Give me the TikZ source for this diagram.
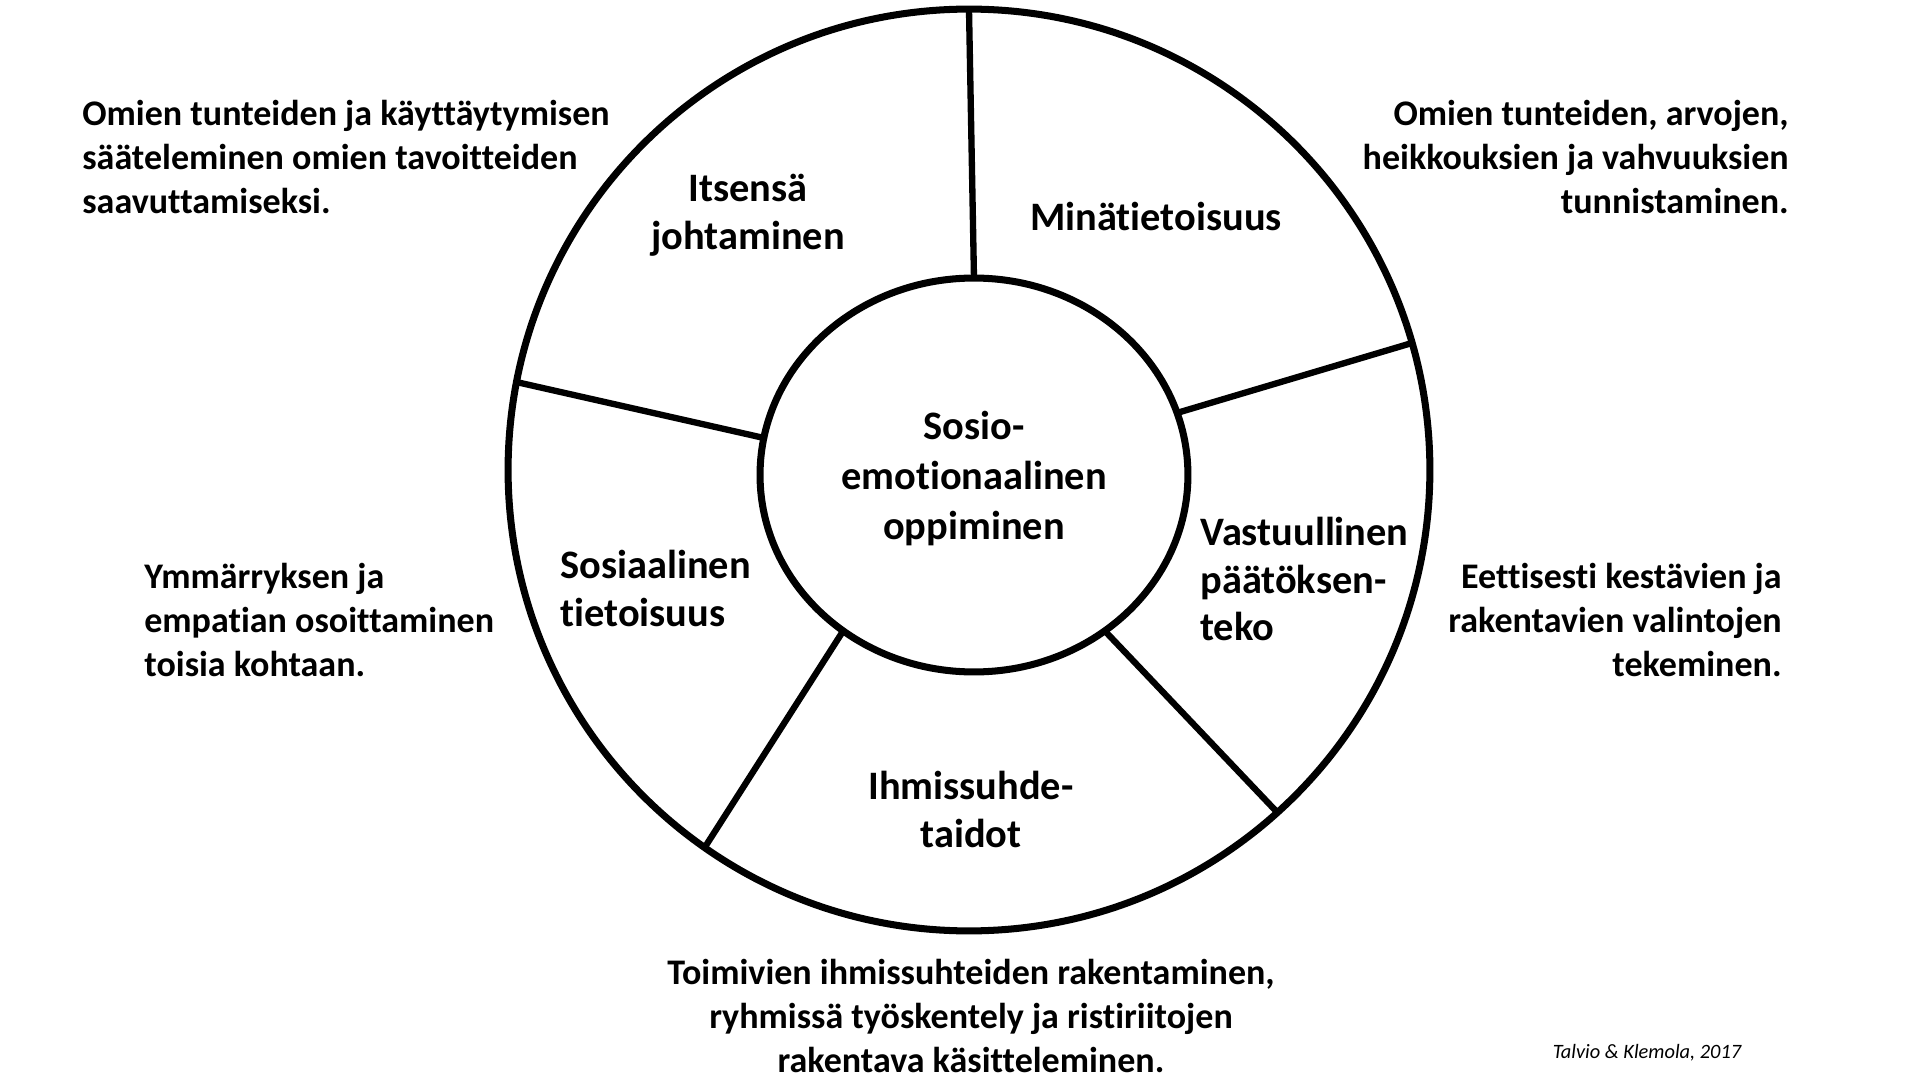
\documentclass[tikz,border=0pt]{standalone}
\usepackage{fontspec}
\setmainfont{Carlito}[Ligatures=NoCommon]
\usetikzlibrary{shapes.geometric}
\tikzset{
  ring/.style={draw, line width=4pt, outer sep=0pt},
  spoke/.style={line width=3.6pt},
  seg/.style={font=\bfseries\fontsize{23}{27.3}\selectfont, align=center, inner sep=0pt},
  note/.style={font=\bfseries\fontsize{20.5}{25.3}\selectfont, inner sep=0pt},
  cite/.style={font=\itshape\fontsize{11.6}{14}\selectfont, inner sep=0pt}}

\begin{document}
\begin{tikzpicture}[x=0.02cm, y=0.02cm]
  \useasboundingbox (-969,-622) rectangle (945,470);
  % wheel with the core in the middle
  \node[ring, circle, minimum size=18.44cm] (wheel) at (0,0) {};
  \node[ring, ellipse, minimum width=8.56cm, minimum height=7.88cm, seg,
        font=\bfseries\fontsize{23}{28.4}\selectfont, text depth=0pt] (core) at (5,-5)
        {Sosio-\\emotionaalinen\\oppiminen};
  \foreach \a/\b in {90/90, 17/16, -50/-48, -130/-125, 170/169}
    \draw[spoke] (core.\a) -- (wheel.\b);

  % segments
  \node[seg] (itse) at (-221,255) {Itsensä\\johtaminen};
  \node[seg] (mina) at (187,254) {Minätietoisuus};
  \node[seg, align=left, anchor=west] (vast) at (231,-109) {Vastuullinen\\päätöksen-\\teko};
  \node[seg, align=left, anchor=west] (sosi) at (-409,-118) {Sosiaalinen\\tietoisuus};
  \node[seg] (ihmi) at (2,-339) {Ihmissuhde-\\taidot};

  % descriptions around the wheel
  \node[note, align=left, anchor=west] (itsenote) at (-887,313)
    {Omien tunteiden ja käyttäytymisen\\sääteleminen omien tavoitteiden\\saavuttamiseksi.};
  \node[note, align=right, anchor=east] (minanote) at (820,313)
    {Omien tunteiden, arvojen,\\heikkouksien ja vahvuuksien\\tunnistaminen.};
  \node[note, align=left, anchor=west] (sosinote) at (-825,-150)
    {Ymmärryksen ja\\empatian osoittaminen\\toisia kohtaan.};
  \node[note, align=right, anchor=east] (vastnote) at (813,-150)
    {Eettisesti kestävien ja\\rakentavien valintojen\\tekeminen.};
  \node[note, align=center] (ihminote) at (2,-546)
    {Toimivien ihmissuhteiden rakentaminen,\\ryhmissä työskentely ja ristiriitojen\\rakentava käsitteleminen.};
  \node[cite] (source) at (678,-583) {Talvio \& Klemola, 2017};
\end{tikzpicture}
\end{document}
